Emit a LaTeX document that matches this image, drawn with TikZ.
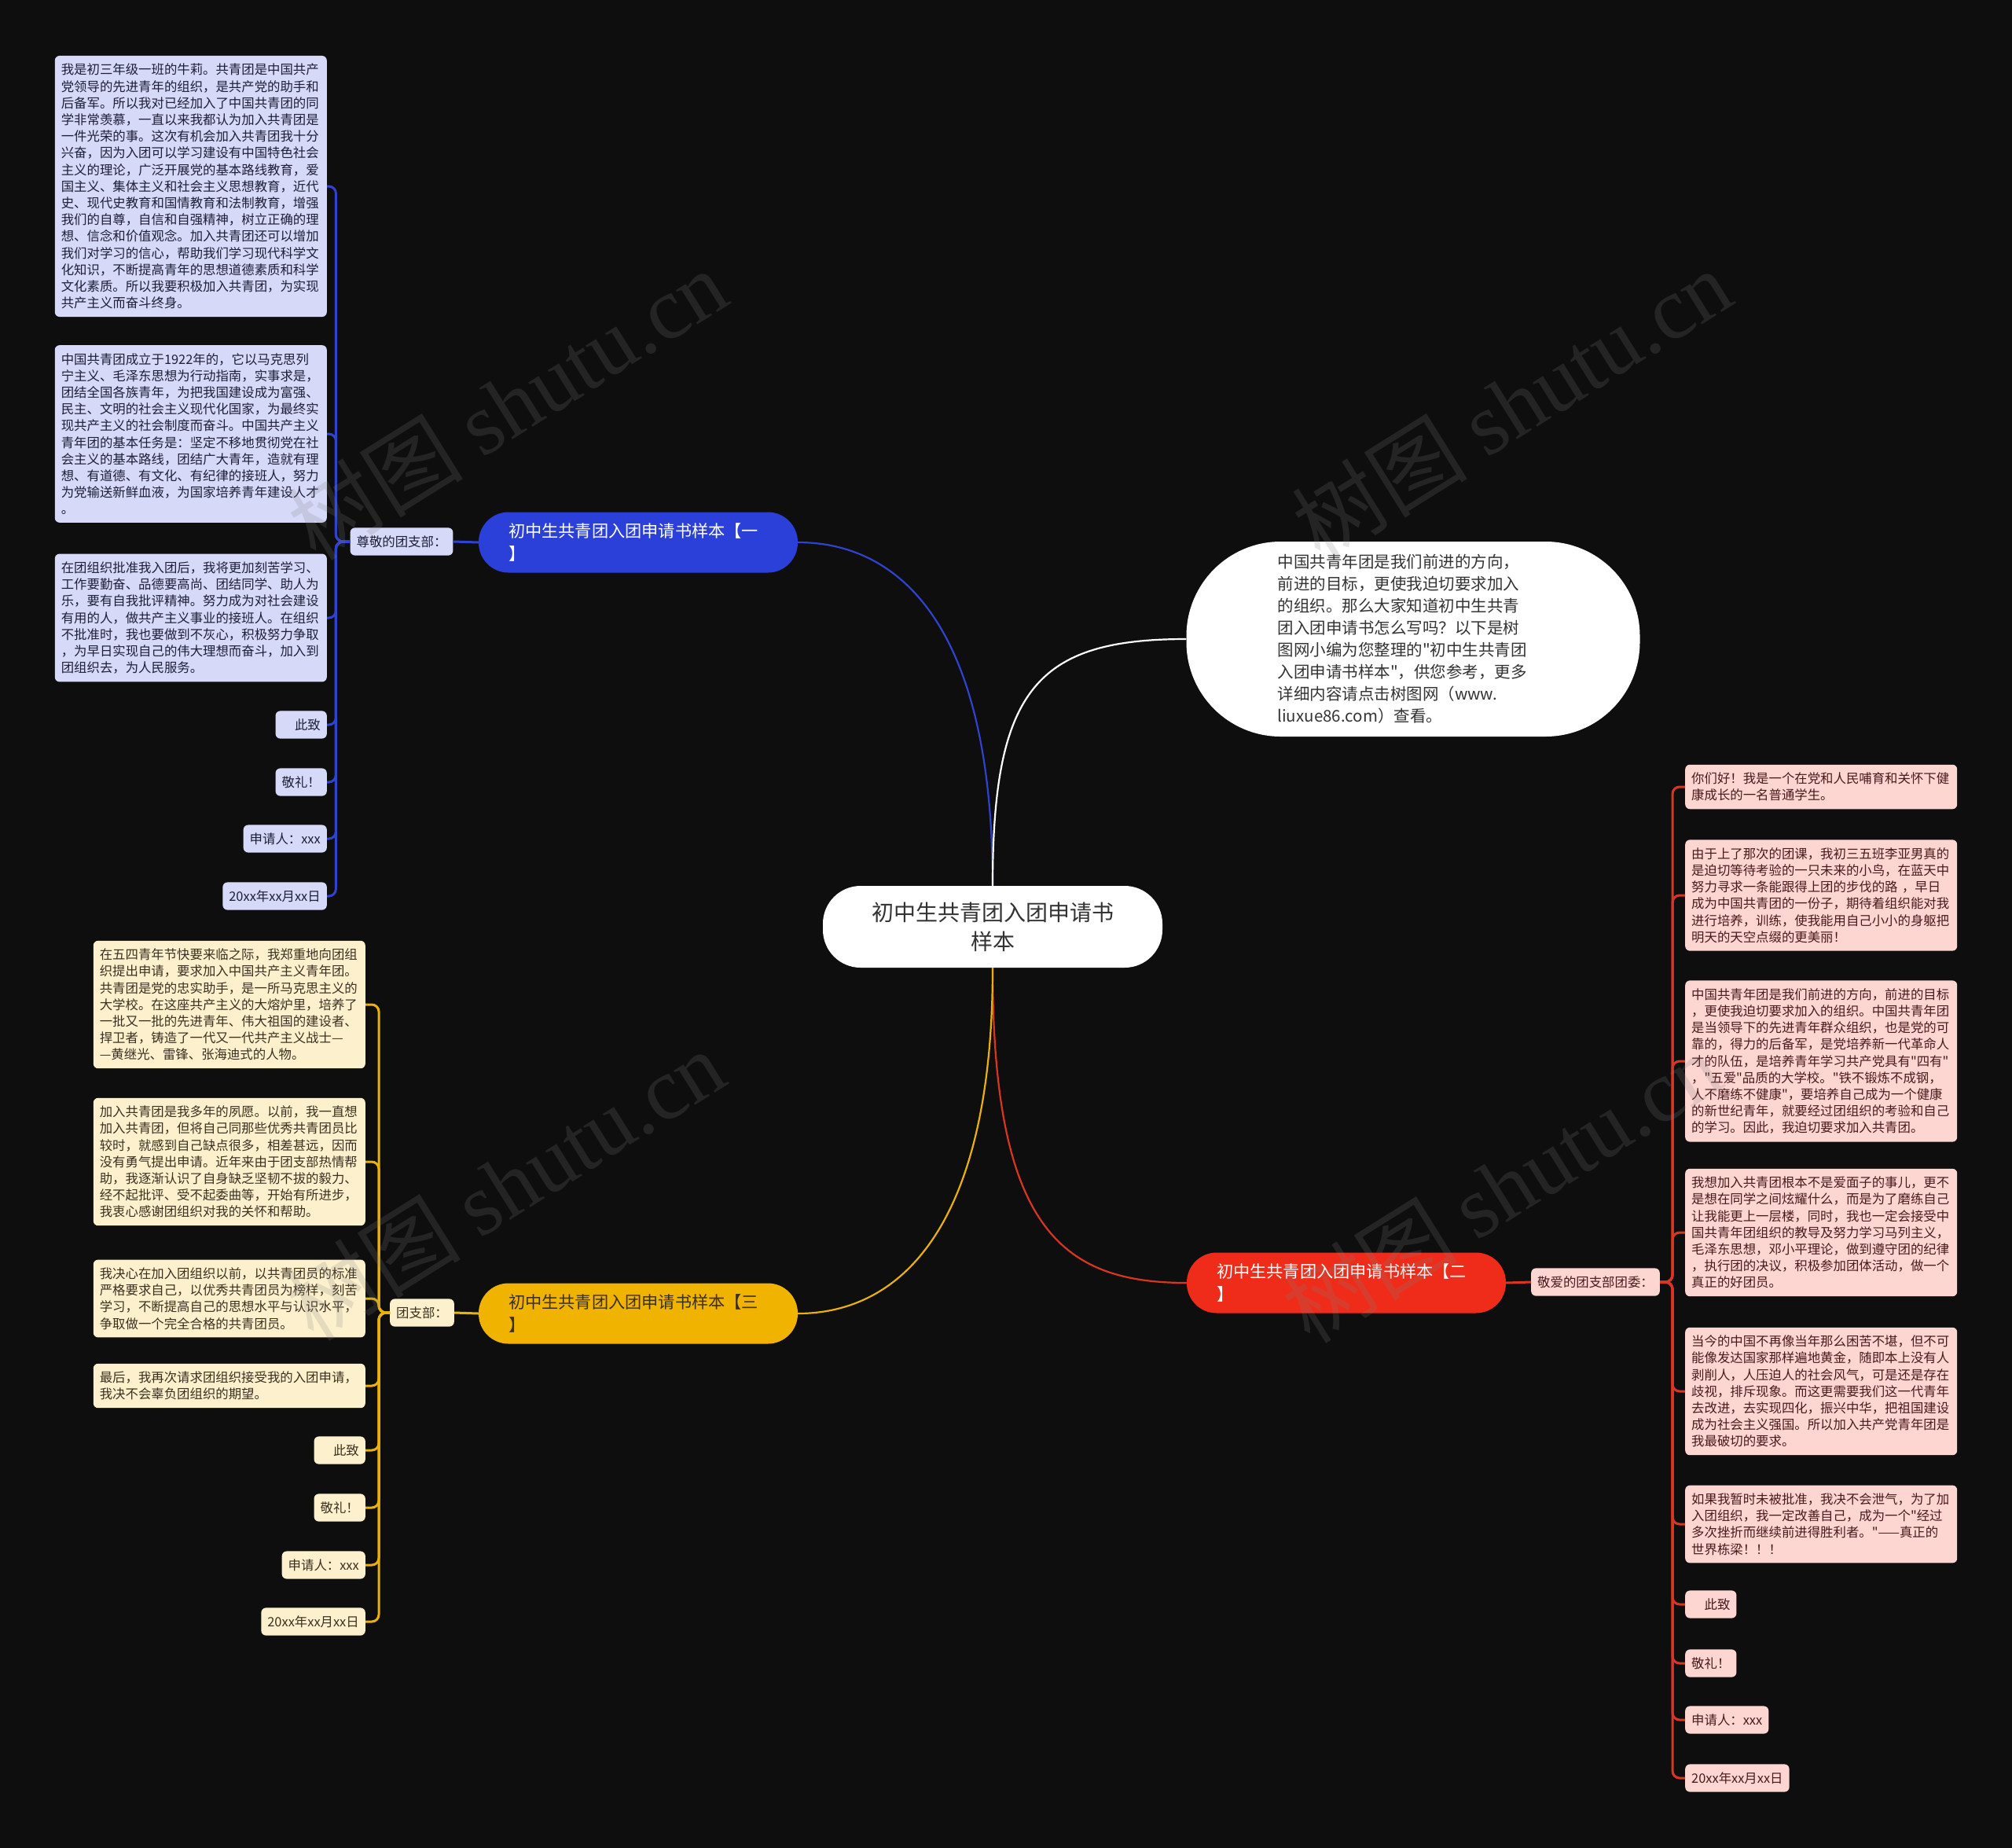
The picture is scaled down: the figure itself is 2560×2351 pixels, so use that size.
\documentclass[tikz,border=0pt]{standalone}
\usepackage{fontspec}
\newfontfamily\cjk{Noto Sans CJK SC}
\newfontfamily\wmserif{Liberation Serif}
\definecolor{bg}{HTML}{0E0E0E}
\definecolor{bluemain}{HTML}{2B40D8}
\definecolor{blueleaf}{HTML}{D6D9F7}
\definecolor{bluetext}{HTML}{1E1E38}
\definecolor{bluewire}{HTML}{3043CF}
\definecolor{redmain}{HTML}{EF2B19}
\definecolor{redleaf}{HTML}{FDD6D2}
\definecolor{redtext}{HTML}{4A1A1A}
\definecolor{redwire}{HTML}{D83524}
\definecolor{yelmain}{HTML}{F0B400}
\definecolor{yelleaf}{HTML}{FDF1CD}
\definecolor{yeltext}{HTML}{3A3020}
\definecolor{yelwire}{HTML}{E9B10A}
\tikzset{
  leaf/.style={rounded corners=6, inner xsep=8, inner ysep=10, align=left, font=\cjk\fontsize{16.4}{21.2}\selectfont},
  longleaf/.style={leaf, text width=330},
  bleaf/.style={fill=blueleaf, text=bluetext},
  rleaf/.style={fill=redleaf, text=redtext},
  yleaf/.style={fill=yelleaf, text=yeltext},
  branch/.style={rounded corners=38, minimum height=77, inner xsep=38, text width=330, align=left, font=\cjk\fontsize{21.2}{29}\selectfont},
  rootbox/.style={fill=white, text=black!80, rounded corners=48, minimum width=432, minimum height=104, align=center, font=\cjk\fontsize{28}{37}\selectfont},
  bubble/.style={fill=white, text=black!80, rounded corners=120, minimum width=577, minimum height=248, text width=345, align=left, font=\cjk\fontsize{20.5}{28}\selectfont},
  wire/.style={line width=2.2},
  spine/.style={line width=3, rounded corners=9},
  wmark/.style={text=gray, text opacity=0.2, rotate=32, font=\cjk\fontsize{112}{112}\selectfont}
}
\begin{document}
\cjk
\begin{tikzpicture}[x=1pt,y=-1pt]
\fill[bg] (0,0) rectangle (2560,2351);
\node[rootbox] (root) at (1263,1179) {初中生共青团入团申请书\\样本};
\node[bubble] (intro) at (1798,813) {中国共青年团是我们前进的方向，\\前进的目标，更使我迫切要求加入\\的组织。那么大家知道初中生共青\\团入团申请书怎么写吗？以下是树\\图网小编为您整理的"初中生共青团\\入团申请书样本"，供您参考，更多\\详细内容请点击树图网（www.\\liuxue86.com）查看。};
\node[branch, fill=bluemain, text=white] (bone) at (812,690) {初中生共青团入团申请书样本【一\\】};
\node[branch, fill=redmain, text=white] (btwo) at (1713,1632) {初中生共青团入团申请书样本【二\\】};
\node[branch, fill=yelmain, text=yeltext] (bthree) at (812,1671) {初中生共青团入团申请书样本【三\\】};
\node[leaf, bleaf] (blbl) at (511,689) {尊敬的团支部：};
\node[leaf, yleaf] (ylbl) at (537,1670) {团支部：};
\node[leaf, rleaf] (rlbl) at (2030,1631) {敬爱的团支部团委：};
% blue group
\node[longleaf, bleaf, anchor=east] (b1) at (416,237) {我是初三年级一班的牛莉。共青团是中国共产\\党领导的先进青年的组织，是共产党的助手和\\后备军。所以我对已经加入了中国共青团的同\\学非常羡慕，一直以来我都认为加入共青团是\\一件光荣的事。这次有机会加入共青团我十分\\兴奋，因为入团可以学习建设有中国特色社会\\主义的理论，广泛开展党的基本路线教育，爱\\国主义、集体主义和社会主义思想教育，近代\\史、现代史教育和国情教育和法制教育，增强\\我们的自尊，自信和自强精神，树立正确的理\\想、信念和价值观念。加入共青团还可以增加\\我们对学习的信心，帮助我们学习现代科学文\\化知识，不断提高青年的思想道德素质和科学\\文化素质。所以我要积极加入共青团，为实现\\共产主义而奋斗终身。};
\node[longleaf, bleaf, anchor=east] (b2) at (416,552) {中国共青团成立于1922年的，它以马克思列\\宁主义、毛泽东思想为行动指南，实事求是，\\团结全国各族青年，为把我国建设成为富强、\\民主、文明的社会主义现代化国家，为最终实\\现共产主义的社会制度而奋斗。中国共产主义\\青年团的基本任务是：坚定不移地贯彻党在社\\会主义的基本路线，团结广大青年，造就有理\\想、有道德、有文化、有纪律的接班人，努力\\为党输送新鲜血液，为国家培养青年建设人才\\。};
\node[longleaf, bleaf, anchor=east] (b3) at (416,786) {在团组织批准我入团后，我将更加刻苦学习、\\工作要勤奋、品德要高尚、团结同学、助人为\\乐，要有自我批评精神。努力成为对社会建设\\有用的人，做共产主义事业的接班人。在组织\\不批准时，我也要做到不灰心，积极努力争取\\，为早日实现自己的伟大理想而奋斗，加入到\\团组织去，为人民服务。};
\node[leaf, bleaf, anchor=east] (b4) at (416,922) {\hspace*{1em}此致};
\node[leaf, bleaf, anchor=east] (b5) at (416,995) {敬礼！};
\node[leaf, bleaf, anchor=east] (b6) at (416,1067) {申请人：xxx};
\node[leaf, bleaf, anchor=east] (b7) at (416,1140) {20xx年xx月xx日};
% yellow group
\node[longleaf, yleaf, anchor=east] (y1) at (465,1278) {在五四青年节快要来临之际，我郑重地向团组\\织提出申请，要求加入中国共产主义青年团。\\共青团是党的忠实助手，是一所马克思主义的\\大学校。在这座共产主义的大熔炉里，培养了\\一批又一批的先进青年、伟大祖国的建设者、\\捍卫者，铸造了一代又一代共产主义战士—\\—黄继光、雷锋、张海迪式的人物。};
\node[longleaf, yleaf, anchor=east] (y2) at (465,1478) {加入共青团是我多年的夙愿。以前，我一直想\\加入共青团，但将自己同那些优秀共青团员比\\较时，就感到自己缺点很多，相差甚远，因而\\没有勇气提出申请。近年来由于团支部热情帮\\助，我逐渐认识了自身缺乏坚韧不拔的毅力、\\经不起批评、受不起委曲等，开始有所进步，\\我衷心感谢团组织对我的关怀和帮助。};
\node[longleaf, yleaf, anchor=east] (y3) at (465,1652) {我决心在加入团组织以前，以共青团员的标准\\严格要求自己，以优秀共青团员为榜样，刻苦\\学习，不断提高自己的思想水平与认识水平，\\争取做一个完全合格的共青团员。};
\node[longleaf, yleaf, anchor=east] (y4) at (465,1763) {最后，我再次请求团组织接受我的入团申请，\\我决不会辜负团组织的期望。};
\node[leaf, yleaf, anchor=east] (y5) at (465,1845) {\hspace*{1em}此致};
\node[leaf, yleaf, anchor=east] (y6) at (465,1918) {敬礼！};
\node[leaf, yleaf, anchor=east] (y7) at (465,1991) {申请人：xxx};
\node[leaf, yleaf, anchor=east] (y8) at (465,2063) {20xx年xx月xx日};
% red group
\node[longleaf, rleaf, anchor=west] (r1) at (2144,1001) {你们好！我是一个在党和人民哺育和关怀下健\\康成长的一名普通学生。};
\node[longleaf, rleaf, anchor=west] (r2) at (2144,1139) {由于上了那次的团课，我初三五班李亚男真的\\是迫切等待考验的一只未来的小鸟，在蓝天中\\努力寻求一条能跟得上团的步伐的路 ，早日\\成为中国共青团的一份子，期待着组织能对我\\进行培养，训练，使我能用自己小小的身躯把\\明天的天空点缀的更美丽！};
\node[longleaf, rleaf, anchor=west] (r3) at (2144,1350) {中国共青年团是我们前进的方向，前进的目标\\，更使我迫切要求加入的组织。中国共青年团\\是当领导下的先进青年群众组织，也是党的可\\靠的，得力的后备军，是党培养新一代革命人\\才的队伍，是培养青年学习共产党具有"四有"\\，"五爱"品质的大学校。"铁不锻炼不成钢，\\人不磨练不健康"，要培养自己成为一个健康\\的新世纪青年，就要经过团组织的考验和自己\\的学习。因此，我迫切要求加入共青团。};
\node[longleaf, rleaf, anchor=west] (r4) at (2144,1568) {我想加入共青团根本不是爱面子的事儿，更不\\是想在同学之间炫耀什么，而是为了磨练自己\\让我能更上一层楼，同时，我也一定会接受中\\国共青年团组织的教导及努力学习马列主义，\\毛泽东思想，邓小平理论，做到遵守团的纪律\\，执行团的决议，积极参加团体活动，做一个\\真正的好团员。};
\node[longleaf, rleaf, anchor=west] (r5) at (2144,1770) {当今的中国不再像当年那么困苦不堪，但不可\\能像发达国家那样遍地黄金，随即本上没有人\\剥削人，人压迫人的社会风气，可是还是存在\\歧视，排斥现象。而这更需要我们这一代青年\\去改进，去实现四化，振兴中华，把祖国建设\\成为社会主义强国。所以加入共产党青年团是\\我最破切的要求。};
\node[longleaf, rleaf, anchor=west] (r6) at (2144,1939) {如果我暂时未被批准，我决不会泄气，为了加\\入团组织，我一定改善自己，成为一个"经过\\多次挫折而继续前进得胜利者。"——真正的\\世界栋梁！！！};
\node[leaf, rleaf, anchor=west] (r7) at (2144,2041) {\hspace*{1em}此致};
\node[leaf, rleaf, anchor=west] (r8) at (2144,2116) {敬礼！};
\node[leaf, rleaf, anchor=west] (r9) at (2144,2188) {申请人：xxx};
\node[leaf, rleaf, anchor=west] (r10) at (2144,2262) {20xx年xx月xx日};
% main wires
\draw[wire, bluewire] (root.north) .. controls +(0,-330) and +(130,0) .. (bone.east);
\draw[wire, white] (root.north) .. controls +(0,-250) and +(-190,0) .. (intro.west);
\draw[wire, redwire] (root.south) .. controls +(0,330) and +(-160,0) .. (btwo.west);
\draw[wire, yelwire] (root.south) .. controls +(0,330) and +(130,0) .. (bthree.east);
\draw[spine, bluewire] (bone.west) -- (blbl.east);
\draw[spine, yelwire] (bthree.west) -- (ylbl.east);
\draw[spine, redwire] (btwo.east) -- (rlbl.west);
% blue spine
\draw[spine, bluewire] (blbl.west) -- ++(-18,0) |- (b1.east);
\draw[spine, bluewire] (blbl.west) -- ++(-18,0) |- (b2.east);
\draw[spine, bluewire] (blbl.west) -- ++(-18,0) |- (b3.east);
\draw[spine, bluewire] (blbl.west) -- ++(-18,0) |- (b4.east);
\draw[spine, bluewire] (blbl.west) -- ++(-18,0) |- (b5.east);
\draw[spine, bluewire] (blbl.west) -- ++(-18,0) |- (b6.east);
\draw[spine, bluewire] (blbl.west) -- ++(-18,0) |- (b7.east);
% yellow spine
\draw[spine, yelwire] (ylbl.west) -- ++(-14,0) |- (y1.east);
\draw[spine, yelwire] (ylbl.west) -- ++(-14,0) |- (y2.east);
\draw[spine, yelwire] (ylbl.west) -- ++(-14,0) |- (y3.east);
\draw[spine, yelwire] (ylbl.west) -- ++(-14,0) |- (y4.east);
\draw[spine, yelwire] (ylbl.west) -- ++(-14,0) |- (y5.east);
\draw[spine, yelwire] (ylbl.west) -- ++(-14,0) |- (y6.east);
\draw[spine, yelwire] (ylbl.west) -- ++(-14,0) |- (y7.east);
\draw[spine, yelwire] (ylbl.west) -- ++(-14,0) |- (y8.east);
% red spine
\draw[spine, redwire] (rlbl.east) -- ++(16,0) |- (r1.west);
\draw[spine, redwire] (rlbl.east) -- ++(16,0) |- (r2.west);
\draw[spine, redwire] (rlbl.east) -- ++(16,0) |- (r3.west);
\draw[spine, redwire] (rlbl.east) -- ++(16,0) |- (r4.west);
\draw[spine, redwire] (rlbl.east) -- ++(16,0) |- (r5.west);
\draw[spine, redwire] (rlbl.east) -- ++(16,0) |- (r6.west);
\draw[spine, redwire] (rlbl.east) -- ++(16,0) |- (r7.west);
\draw[spine, redwire] (rlbl.east) -- ++(16,0) |- (r8.west);
\draw[spine, redwire] (rlbl.east) -- ++(16,0) |- (r9.west);
\draw[spine, redwire] (rlbl.east) -- ++(16,0) |- (r10.west);
% watermarks
\node[wmark] (wm1) at (645,514) {树图 {\wmserif shutu.cn}};
\node[wmark] (wm2) at (1923,514) {树图 {\wmserif shutu.cn}};
\node[wmark] (wm3) at (642,1507) {树图 {\wmserif shutu.cn}};
\node[wmark] (wm4) at (1910,1510) {树图 {\wmserif shutu.cn}};
\end{tikzpicture}
\end{document}
